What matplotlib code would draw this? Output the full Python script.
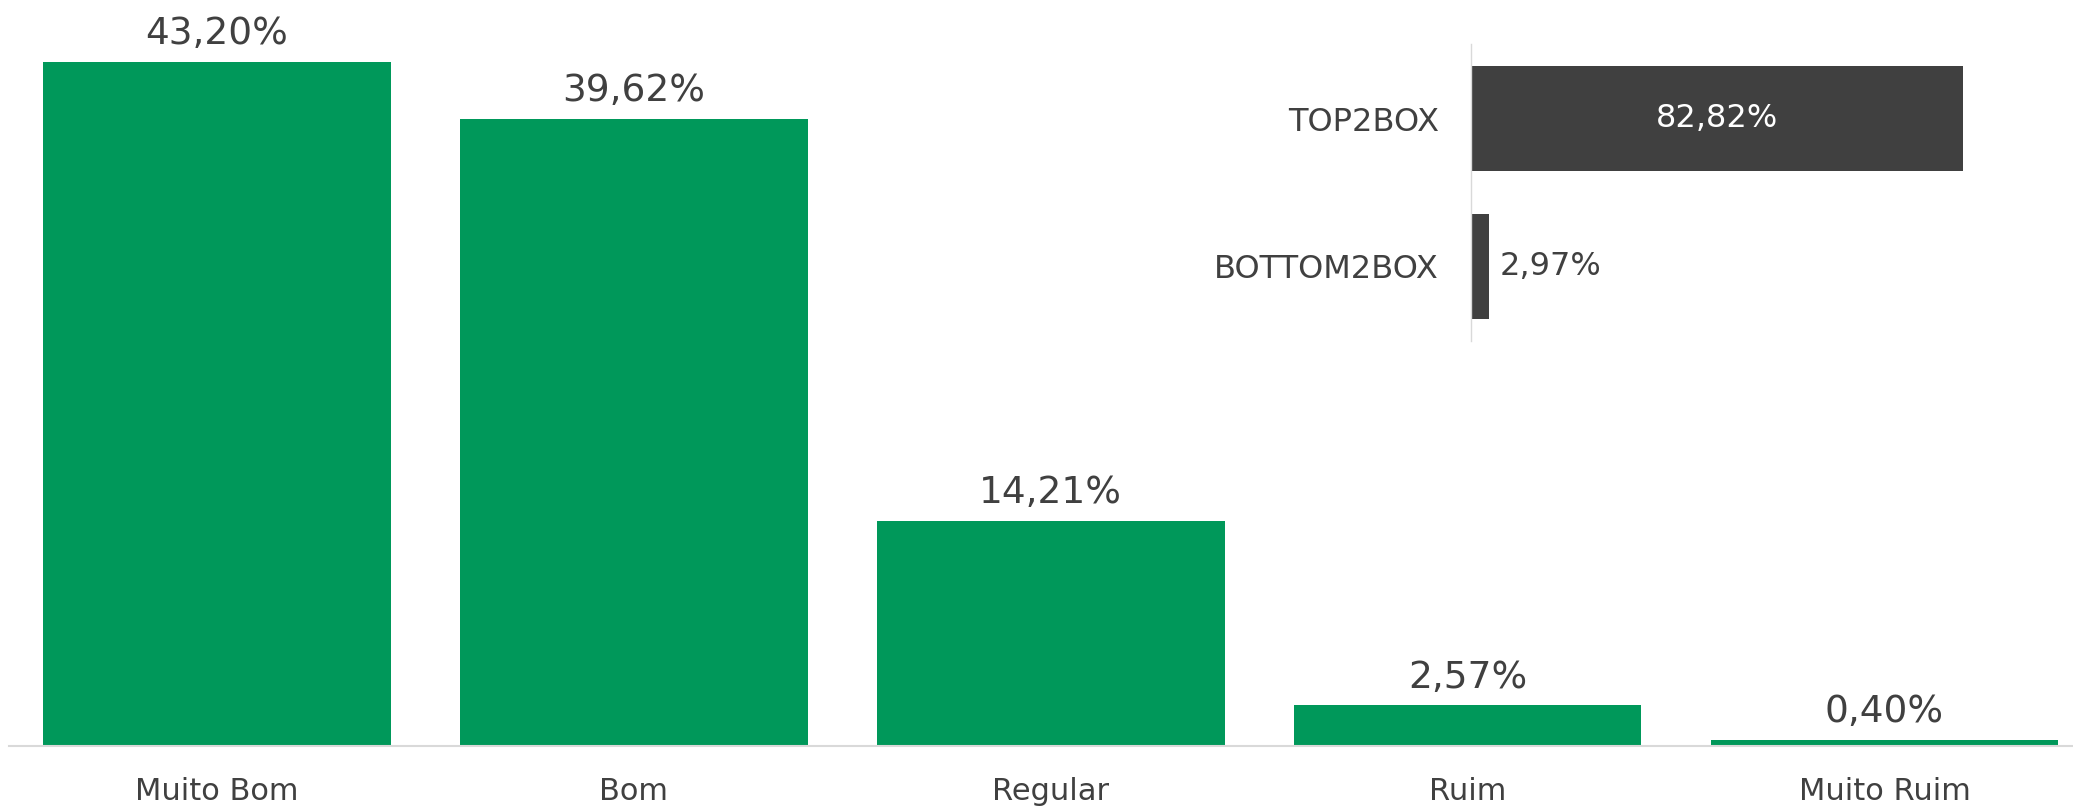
import matplotlib
matplotlib.use("Agg")
import matplotlib.pyplot as plt

# data
categories = ["Muito Bom", "Bom", "Regular", "Ruim", "Muito Ruim"]
values = [43.20, 39.62, 14.21, 2.57, 0.40]

box_labels = ["BOTTOM2BOX", "TOP2BOX"]
box_values = [2.97, 82.82]

green = "#00985A"
dark = "#404040"
text_color = "#404040"
grid_gray = "#D9D9D9"

plt.rcParams["font.family"] = ["DejaVu Sans"]


def pct(v):
    return f"{v:.2f}%".replace(".", ",")


W, H = 2073, 808
fig = plt.figure(figsize=(W / 100, H / 100), dpi=100)

# main bar chart
ax = fig.add_axes([8.5 / W, 62 / H, 2084.5 / W, 746 / H])
x = range(len(categories))
bars = ax.bar(x, values, width=0.834, color=green)
ax.set_xlim(-0.5, 4.5)
ax.set_ylim(0, 47.12)
for b, v in zip(bars, values):
    ax.annotate(pct(v), (b.get_x() + b.get_width() / 2, v),
                xytext=(0, 7), textcoords="offset points",
                ha="center", va="bottom", fontsize=27, color=text_color)
ax.set_xticks(list(x))
ax.set_xticklabels(categories, fontsize=22, color=text_color)
ax.tick_params(axis="x", length=0, pad=22)
ax.set_yticks([])
for s in ["top", "right", "left"]:
    ax.spines[s].set_visible(False)
ax.spines["bottom"].set_color(grid_gray)
ax.spines["bottom"].set_linewidth(1.5)

# inset: top2box / bottom2box
ax2 = fig.add_axes([1471 / W, (808 - 341) / H, 594 / W, 297 / H])
ybox = range(len(box_labels))
hb = ax2.barh(ybox, box_values, height=0.714, color=dark)
ax2.set_xlim(0, 100)
ax2.set_ylim(-0.51, 1.51)
ax2.set_yticks(list(ybox))
ax2.set_yticklabels(box_labels, fontsize=23, color=text_color)
ax2.tick_params(axis="y", length=0, pad=23)
ax2.set_xticks([])
for s in ["top", "right", "bottom"]:
    ax2.spines[s].set_visible(False)
ax2.spines["left"].set_color(grid_gray)
ax2.spines["left"].set_linewidth(1)

for b, v in zip(hb, box_values):
    yc = b.get_y() + b.get_height() / 2
    if v > 20:
        ax2.text(v / 2, yc, pct(v), ha="center", va="center",
                 fontsize=23, color="white")
    else:
        ax2.annotate(pct(v), (v, yc), xytext=(8, 0), textcoords="offset points",
                     ha="left", va="center", fontsize=23, color=text_color)

fig.savefig("out.png", dpi=100)
